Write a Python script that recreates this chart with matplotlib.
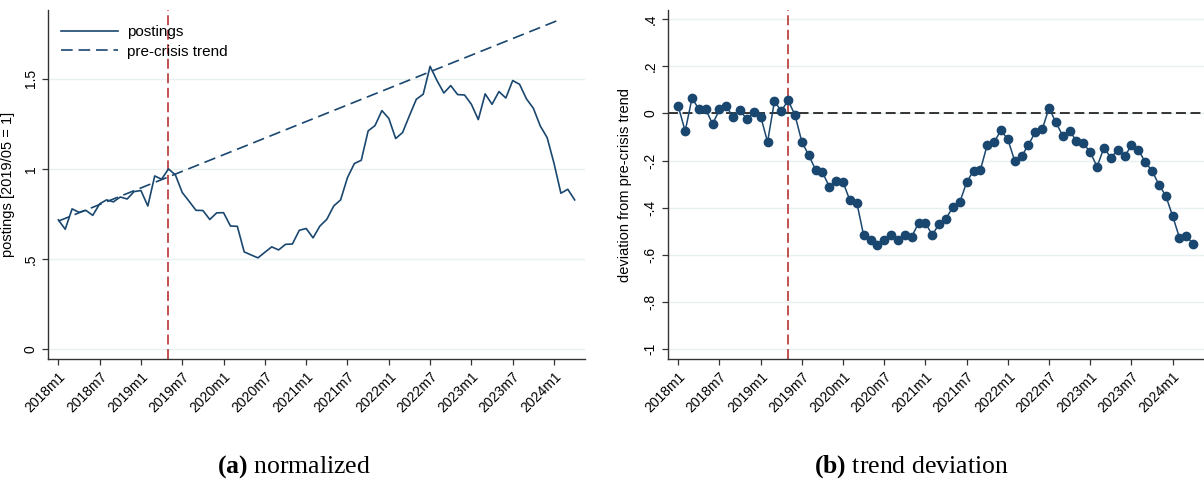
import matplotlib
matplotlib.use("Agg")
import matplotlib.pyplot as plt

# ---------------- data ----------------
tick_pos = [0, 6, 12, 18, 24, 30, 36, 42, 48, 54, 60, 66, 72]
tick_labels = ["2018m1", "2018m7", "2019m1", "2019m7", "2020m1", "2020m7",
               "2021m1", "2021m7", "2022m1", "2022m7", "2023m1", "2023m7", "2024m1"]

# monthly index 0 = 2018m1 ... 75 = 2024m4
postings = [0.717, 0.665, 0.778, 0.759, 0.770, 0.742, 0.806, 0.828, 0.817, 0.844,
            0.833, 0.874, 0.880, 0.794, 0.961, 0.943, 1.000, 0.967, 0.869, 0.820,
            0.770, 0.769, 0.719, 0.756, 0.757, 0.683, 0.681, 0.539, 0.522, 0.506,
            0.537, 0.567, 0.550, 0.581, 0.583, 0.659, 0.669, 0.617, 0.683, 0.720,
            0.794, 0.828, 0.952, 1.030, 1.048, 1.211, 1.241, 1.324, 1.281, 1.169,
            1.202, 1.296, 1.387, 1.415, 1.570, 1.491, 1.422, 1.463, 1.413, 1.411,
            1.359, 1.274, 1.417, 1.359, 1.430, 1.394, 1.491, 1.470, 1.389, 1.337,
            1.239, 1.174, 1.031, 0.865, 0.887, 0.828]

trend_x = [0, 73]
trend_y = [0.710, 1.832]

deviation = [0.030, -0.075, 0.065, 0.018, 0.017, -0.045, 0.017, 0.030, -0.016, 0.013,
             -0.025, 0.008, -0.013, -0.121, 0.051, 0.011, 0.055, -0.007, -0.121, -0.177,
             -0.239, -0.250, -0.311, -0.285, -0.292, -0.369, -0.379, -0.517, -0.538, -0.559,
             -0.538, -0.517, -0.538, -0.517, -0.523, -0.465, -0.465, -0.516, -0.468, -0.446,
             -0.397, -0.377, -0.292, -0.243, -0.240, -0.133, -0.121, -0.072, -0.110, -0.201,
             -0.182, -0.133, -0.079, -0.068, 0.023, -0.038, -0.095, -0.075, -0.116, -0.126,
             -0.165, -0.226, -0.145, -0.188, -0.155, -0.182, -0.136, -0.154, -0.206, -0.243,
             -0.302, -0.349, -0.435, -0.527, -0.518, -0.556]

crisis_month = 16  # 2019m5

left_yticks = [0, 0.5, 1, 1.5]
left_ylabels = ["0", ".5", "1", "1.5"]
right_yticks = [-1, -0.8, -0.6, -0.4, -0.2, 0, 0.2, 0.4]
right_ylabels = ["-1", "-.8", "-.6", "-.4", "-.2", "0", ".2", ".4"]

# ---------------- style ----------------
plt.rcParams['font.family'] = ['Liberation Sans', 'DejaVu Sans']
plt.rcParams['mathtext.fontset'] = 'custom'
plt.rcParams['mathtext.rm'] = 'Liberation Serif'
plt.rcParams['mathtext.bf'] = 'Liberation Serif:bold'

navy = '#1a476f'
red = '#b22222'
grid_c = '#e8f0f1'
spine_c = '#333333'

fig = plt.figure(figsize=(12.04, 4.83), dpi=100)
W, H = 1204, 483

def make_ax(x0, x1, y0, y1):
    return fig.add_axes([x0 / W, 1 - y1 / H, (x1 - x0) / W, (y1 - y0) / H])

axL = make_ax(48, 585, 10, 359)
axR = make_ax(668, 1203.5, 10, 359)

months = list(range(len(postings)))

for ax in (axL, axR):
    for s in ('top', 'right'):
        ax.spines[s].set_visible(False)
    for s in ('left', 'bottom'):
        ax.spines[s].set_color(spine_c)
        ax.spines[s].set_linewidth(1.0)
    ax.set_xlim(-1.5, 76.5)
    ax.set_xticks(tick_pos)
    ax.set_xticklabels(tick_labels, rotation=45, ha='right', va='top',
                       rotation_mode='anchor', fontsize=10)
    ax.tick_params(axis='both', direction='out', length=4.5, width=0.9, color=spine_c)
    ax.tick_params(axis='x', pad=3)
    ax.tick_params(axis='y', labelrotation=90, labelsize=10, pad=3)
    ax.yaxis.grid(True, color=grid_c, linewidth=1.0)
    ax.set_axisbelow(True)
    ax.axvline(crisis_month, color=red, linewidth=1.1, linestyle=(0, (6.5, 3)), zorder=1)

# ---- left panel ----
axL.set_ylim(-0.056, 1.883)
axL.set_yticks(left_yticks)
axL.set_yticklabels(left_ylabels, va='center')
axL.plot(months, postings, color=navy, linewidth=1.2, label='postings', zorder=3)
axL.plot(trend_x, trend_y, color=navy, linewidth=1.2, linestyle=(0, (7, 3.5)),
         label='pre-crisis trend', zorder=3)
axL.set_ylabel('postings [2019/05 = 1]', fontsize=10.5)
axL.yaxis.set_label_coords((15 - 48) / 537, 0.5)
leg = axL.legend(loc='upper left', frameon=False, fontsize=11, handlelength=3.7,
                 handletextpad=0.65, borderaxespad=0.0, borderpad=0.0, labelspacing=0.38,
                 bbox_to_anchor=((61 - 48) / 537, (359 - 25) / 349))

# ---- right panel ----
axR.set_ylim(-1.042, 0.439)
axR.set_yticks(right_yticks)
axR.set_yticklabels(right_ylabels, va='center')
axR.axhline(0, color='black', linewidth=1.1, linestyle=(0, (6.5, 3)), zorder=2)
axR.plot(months, deviation, color=navy, linewidth=1.1, marker='o', markersize=6,
         markerfacecolor=navy, markeredgecolor=navy, zorder=3)
axR.set_ylabel('deviation from pre-crisis trend', fontsize=10.5)
axR.yaxis.set_label_coords((632 - 668) / 535.5, 0.5)

# ---- captions ----
fig.text(293.5 / W, 1 - 467 / H, r'$\mathbf{(a)}$ normalized', ha='center', va='center',
         fontsize=18.5, family='Liberation Serif')
fig.text(911 / W, 1 - 467 / H, r'$\mathbf{(b)}$ trend deviation', ha='center', va='center',
         fontsize=18.5, family='Liberation Serif')

fig.savefig('out.png', dpi=100)
